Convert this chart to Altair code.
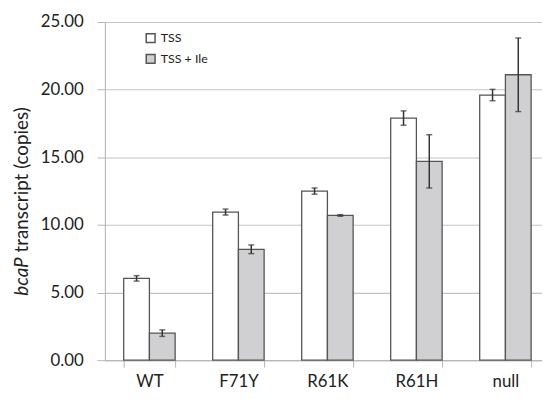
import altair as alt
import pandas as pd

categories = ["WT", "F71Y", "R61K", "R61H", "null"]
series_names = ["TSS", "TSS + Ile"]
tss = [6.05, 10.95, 12.5, 17.9, 19.6]
tss_err = [0.2, 0.22, 0.23, 0.53, 0.42]
ile = [2.0, 8.2, 10.7, 14.7, 21.1]
ile_err = [0.24, 0.32, 0.06, 1.97, 2.72]
y_ticks = [0, 5, 10, 15, 20, 25]

rows = []
for i, c in enumerate(categories):
    for s, vals, errs in ((series_names[0], tss, tss_err), (series_names[1], ile, ile_err)):
        v, e = vals[i], errs[i]
        rows.append({"cat": c, "series": s, "value": v, "lo": v - e, "hi": v + e})
df = pd.DataFrame(rows)

FONT = "Lato"

x_enc = alt.X(
    "cat:N",
    sort=categories,
    title=None,
    scale=alt.Scale(range=[0, 450], paddingInner=0.422, paddingOuter=0.211),
    axis=alt.Axis(
        labelAngle=0, labelFontSize=17, labelFont=FONT, labelColor="#222",
        labelPadding=7, tickBand="extent", tickSize=7, tickColor="#b5b5b5",
        domainColor="#b5b5b5", grid=False,
    ),
)
xoff = alt.XOffset("series:N", sort=series_names)

base = alt.Chart(df)

bars = base.mark_bar(stroke="#555555", strokeWidth=1.3).encode(
    x=x_enc,
    xOffset=xoff,
    y=alt.Y(
        "value:Q",
        title=None,
        scale=alt.Scale(domain=[0, 25], nice=False),
        axis=alt.Axis(
            values=y_ticks, format=".2f", labelFontSize=17, labelFont=FONT,
            labelColor="#222", labelPadding=14, tickSize=8, tickColor="#b5b5b5",
            domainColor="#b5b5b5", gridColor="#c4c4c4", gridWidth=1.2,
        ),
    ),
    fill=alt.Fill(
        "series:N",
        sort=series_names,
        scale=alt.Scale(domain=series_names, range=["#ffffff", "#d0d0d2"]),
        legend=alt.Legend(
            title=None, orient="none", legendX=40, legendY=10,
            symbolType="square", symbolSize=80, symbolStrokeColor="#555555",
            symbolStrokeWidth=1.5, labelFontSize=12.5, labelFont=FONT,
            labelColor="#222", rowPadding=5, labelOffset=4, padding=0,
        ),
    ),
)

rules = base.mark_rule(color="#333333", strokeWidth=1.5).encode(
    x=alt.X("cat:N", sort=categories), xOffset=xoff, y="lo:Q", y2="hi:Q"
)
caps_hi = base.mark_tick(color="#333333", size=6, thickness=1.5).encode(
    x=alt.X("cat:N", sort=categories), xOffset=xoff, y="hi:Q"
)
caps_lo = base.mark_tick(color="#333333", size=6, thickness=1.5).encode(
    x=alt.X("cat:N", sort=categories), xOffset=xoff, y="lo:Q"
)

title_df = pd.DataFrame({"a": [0]})
t1 = alt.Chart(title_df).mark_text(
    text="bcaP", angle=270, align="right", baseline="alphabetic",
    fontSize=19, font=FONT, fontStyle="italic", color="#222",
).encode(x=alt.value(-78), y=alt.value(238))
t2 = alt.Chart(title_df).mark_text(
    text="transcript (copies)", angle=270, align="left", baseline="alphabetic",
    fontSize=19, font=FONT, color="#222",
).encode(x=alt.value(-78), y=alt.value(233))

chart = (
    alt.layer(bars, rules, caps_hi, caps_lo, t1, t2)
    .properties(
        width=442, height=342,
        autosize=alt.AutoSizeParams(type="none"),
        padding={"left": 98, "top": 12, "right": 0, "bottom": 31},
    )
    .configure_view(stroke=None)
    .configure(background="white")
)

chart.save("out.html", embed_options={"renderer": "svg", "actions": False})
